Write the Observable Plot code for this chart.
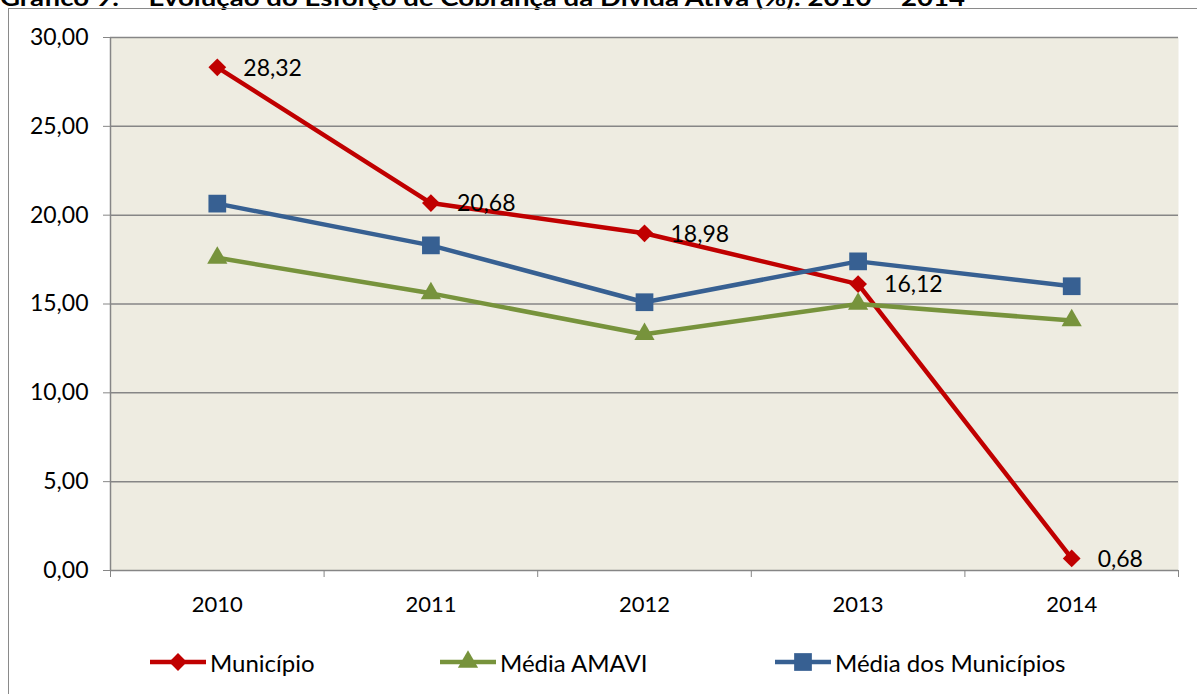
<!DOCTYPE html>
<html><head><meta charset="utf-8">
<script src="https://cdn.jsdelivr.net/npm/d3@7"></script>
<script src="https://cdn.jsdelivr.net/npm/@observablehq/plot@0.6"></script>
<style>
body{margin:0;background:#fff;font-family:Lato,"Open Sans",sans-serif;}
#wrap{position:relative;width:1197px;height:694px;overflow:hidden;}
#title{position:absolute;left:0;top:-13px;font-size:22px;line-height:22px;white-space:nowrap;color:#000;font-weight:bold;transform-origin:0 0;}
#border{position:absolute;left:8px;top:8px;width:1200px;height:700px;border:1.5px solid #8a8a8a;box-sizing:border-box;}
#chart{position:absolute;left:0;top:0;}
.leg{position:absolute;top:647px;height:30px;display:flex;align-items:center;font-size:24px;color:#000;}
.leg svg{display:block;margin-right:2px;}
</style></head>
<body><div id="wrap">
<div id="title">Gráfico 9: – Evolução do Esforço de Cobrança da Dívida Ativa (%): 2010 – 2014</div>
<div id="border"></div>
<div id="chart"></div>
<div id="legend"></div>
</div>
<script>
const years = [2010, 2011, 2012, 2013, 2014];
const municipio = [28.32, 20.68, 18.98, 16.12, 0.68];
const mediaAmavi = [17.6, 15.6, 13.3, 15.0, 14.07];
const mediaMunicipios = [20.65, 18.3, 15.1, 17.4, 16.0];
const seriesNames = ["Município", "Média AMAVI", "Média dos Municípios"];
const seriesColors = ["#C00000", "#77933C", "#376092"];
const seriesSymbols = ["diamond2", "triangle", "square"];
const seriesR = [8, 7.5, 10];
const yTicks = [0, 5, 10, 15, 20, 25, 30];

const seriesValues = [municipio, mediaAmavi, mediaMunicipios];
const fmt = d => d.toFixed(2).replace(".", ",");
const boundaries = years.map(y => y - 0.5).concat([years[years.length - 1] + 0.5]);

const marks = [
  Plot.frame({fill: "#EEECE1", stroke: null}),
  Plot.gridY(yTicks, {stroke: "#868686", strokeOpacity: 1, strokeWidth: 1.5}),
  Plot.ruleX([boundaries[0]], {stroke: "#868686", strokeWidth: 1.5}),
  Plot.axisY({ticks: yTicks, tickSize: 7, tickPadding: 15, tickFormat: fmt, stroke: "#868686", fontSize: 23, label: null}),
  Plot.axisX({ticks: boundaries, tickSize: 7, tickFormat: () => "", stroke: "#868686", label: null}),
  Plot.axisX({ticks: years, tickSize: 0, tickPadding: 26, tickFormat: d => String(d), fontSize: 22, label: null})
];
seriesNames.forEach((name, k) => {
  const rows = years.map((y, i) => ({year: y, value: seriesValues[k][i]}));
  marks.push(Plot.line(rows, {x: "year", y: "value", stroke: seriesColors[k], strokeWidth: 4.5}));
  marks.push(Plot.dot(rows, {x: "year", y: "value", symbol: seriesSymbols[k], r: seriesR[k], fill: seriesColors[k], stroke: null}));
});
const munRows = years.map((y, i) => ({year: y, value: municipio[i]}));
marks.push(Plot.text(munRows, {x: "year", y: "value", text: d => fmt(d.value), textAnchor: "start", dx: 26, dy: 1, fill: "#000", fontSize: 23}));

const chart = Plot.plot({
  width: 1197, height: 694,
  marginLeft: 110, marginRight: 19, marginTop: 37, marginBottom: 124,
  style: {fontFamily: "Lato, 'Open Sans', sans-serif", fontSize: "22px", color: "#000", background: "transparent"},
  x: {type: "linear", domain: [boundaries[0], boundaries[boundaries.length - 1]]},
  y: {domain: [0, 30]},
  marks
});
document.getElementById("chart").appendChild(chart);

// title stretched to its width in the reference
const title = document.getElementById("title");
const tw = title.getBoundingClientRect().width;
title.style.transform = `scaleX(${965 / tw})`;

// legend
const legLefts = [150, 440, 775];
const legend = document.getElementById("legend");
const symMap = {diamond2: d3.symbolDiamond2, triangle: d3.symbolTriangle, square: d3.symbolSquare};
seriesNames.forEach((name, k) => {
  const div = document.createElement("div");
  div.className = "leg";
  div.style.left = legLefts[k] + "px";
  const svg = d3.create("svg").attr("width", 58).attr("height", 24);
  svg.append("line").attr("x1", 0).attr("x2", 56).attr("y1", 12).attr("y2", 12)
    .attr("stroke", seriesColors[k]).attr("stroke-width", 4.5);
  svg.append("path").attr("transform", "translate(28,12)")
    .attr("d", d3.symbol(symMap[seriesSymbols[k]], Math.PI * seriesR[k] * seriesR[k])())
    .attr("fill", seriesColors[k]);
  div.appendChild(svg.node());
  const span = document.createElement("span");
  span.textContent = name;
  div.appendChild(span);
  legend.appendChild(div);
});
</script>
</body></html>
